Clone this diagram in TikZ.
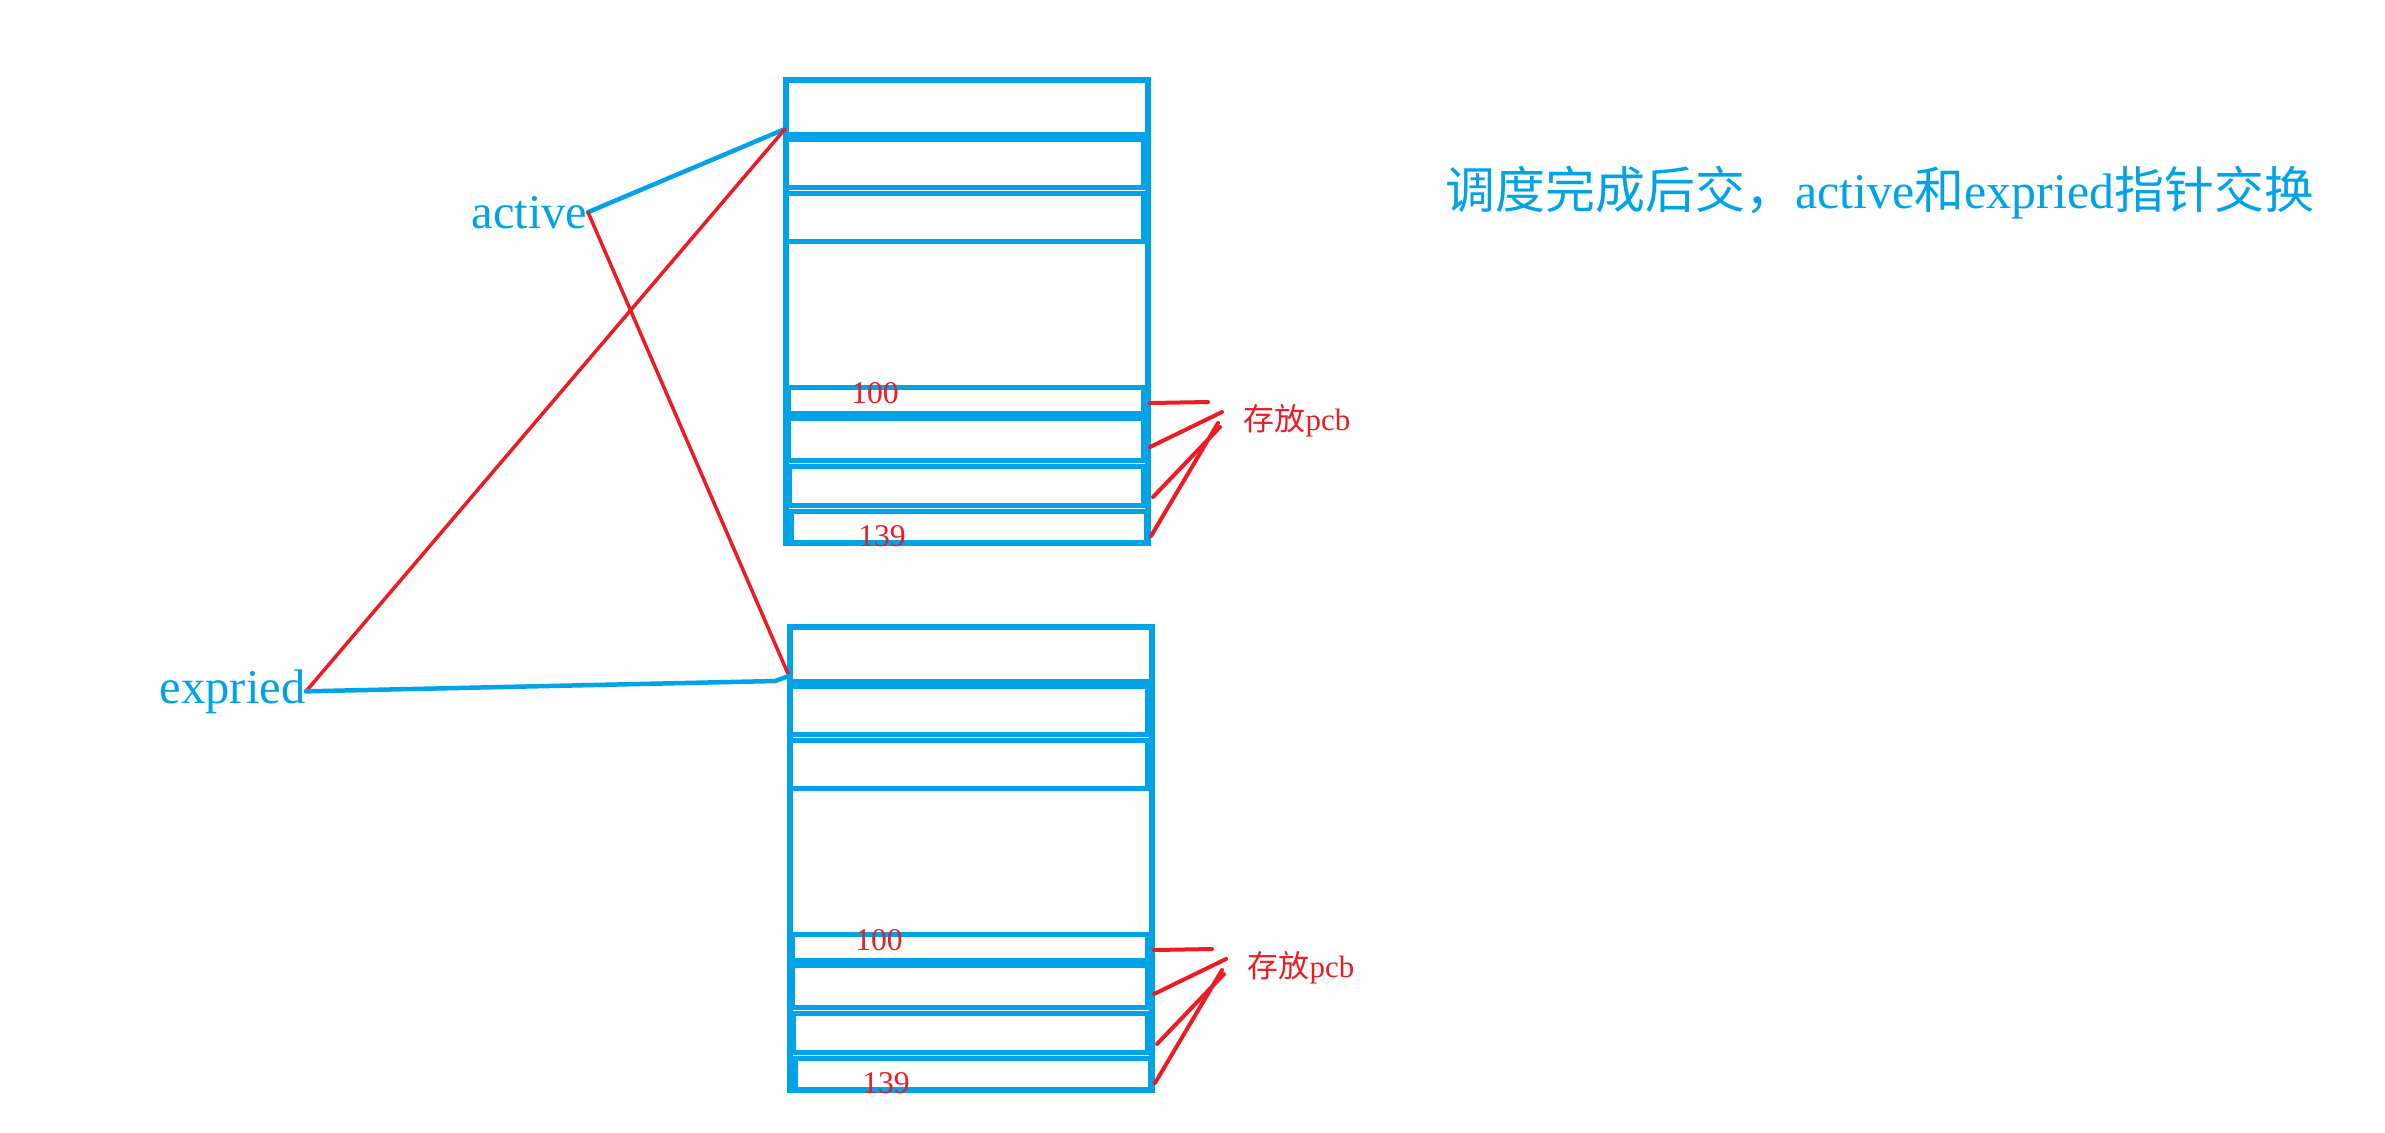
\documentclass[tikz,border=0pt]{standalone}
\usepackage{fontspec}
\setmainfont{Liberation Serif}
\newfontfamily\cjk{Noto Sans CJK SC}
\definecolor{pblue}{HTML}{00A2E8}
\definecolor{pred}{HTML}{ED1C24}
\tikzset{
  blk/.style={draw=pblue, line width=0.05cm},
  blkout/.style={draw=pblue, line width=0.06cm},
  blkthick/.style={draw=pblue, line width=0.10cm},
  redln/.style={draw=pred, line width=0.04cm, line cap=round},
  ptrred/.style={draw=pred, line width=0.035cm, line cap=round},
  ptrblue/.style={draw=pblue, line width=0.045cm, line cap=round},
  numlbl/.style={text=pred, font=\fontsize{9}{10}\selectfont, inner sep=0pt},
  pcblbl/.style={text=pred, font=\fontsize{8.8}{10}\selectfont, inner sep=0pt},
  ptrlbl/.style={text=pblue, font=\fontsize{13.8}{16}\selectfont, inner sep=0pt},
  queueblock/.pic={
    \draw[blkout] (785.5,80) rectangle (1147.5,543);
    \draw[blkthick] (785.5,136.7) -- (1147.5,136.7);
    \draw[blk] (786,136.7) rectangle (1143,187.5);
    \draw[blk] (785,193) rectangle (1143,241);
    \draw[blk] (785.5,387.5) -- (1147.5,387.5);
    \draw[blk] (788,387.5) rectangle (1143,415.7);
    \draw[blkthick] (786,415.7) -- (1145,415.7);
    \draw[blk] (788,415.7) rectangle (1143,460.5);
    \draw[blk] (789,466.7) rectangle (1143,505.5);
    \draw[blk] (791,511.5) rectangle (1146,543);
    \node[numlbl] (-n100) at (875,393) {100};
    \node[numlbl] (-n139) at (882,536) {139};
    \coordinate (-in) at (785,129);
    \node[pcblbl, anchor=west] (-pcb) at (1243,421) {{\cjk 存放}pcb};
    \coordinate (-s1) at (1150,403);
    \coordinate (-s2) at (1150,447);
    \coordinate (-s3) at (1153,497);
    \coordinate (-s4) at (1151,536);
    \coordinate (-e1) at (1208,402);
    \coordinate (-e2) at (1222,412);
    \coordinate (-e3) at (1220,427);
    \coordinate (-e4) at (1218,423);
    \draw[redln] (-s1) -- (-e1);
    \draw[redln] (-s2) -- (-e2);
    \draw[redln] (-s3) -- (-e3);
    \draw[redln] (-s4) -- (-e4);
  }
}
\begin{document}
\begin{tikzpicture}[x=0.01cm,y=-0.01cm]
\useasboundingbox (0,0) rectangle (2385,1132);
\pic (top) at (0,0) {queueblock};
\pic (bot) at (4,547) {queueblock};
\node[ptrlbl, anchor=base east] (active) at (588,228) {active};
\node[ptrlbl, anchor=base east] (expried) at (306,703) {expried};
\coordinate (bend) at (775,681);
\draw[ptrblue] (active.east) -- (top-in);
\draw[ptrred] (active.east) -- (bot-in);
\draw[ptrred] (expried.east) -- (top-in);
\draw[ptrblue] (expried.east) -- (bend) -- (bot-in);
\node[text=pblue, font=\fontsize{14.2}{17}\selectfont, inner sep=0pt, anchor=base] (title) at (1880,208)
  {{\cjk 调度完成后交，}active{\cjk 和}expried{\cjk 指针交换}};
\end{tikzpicture}
\end{document}
